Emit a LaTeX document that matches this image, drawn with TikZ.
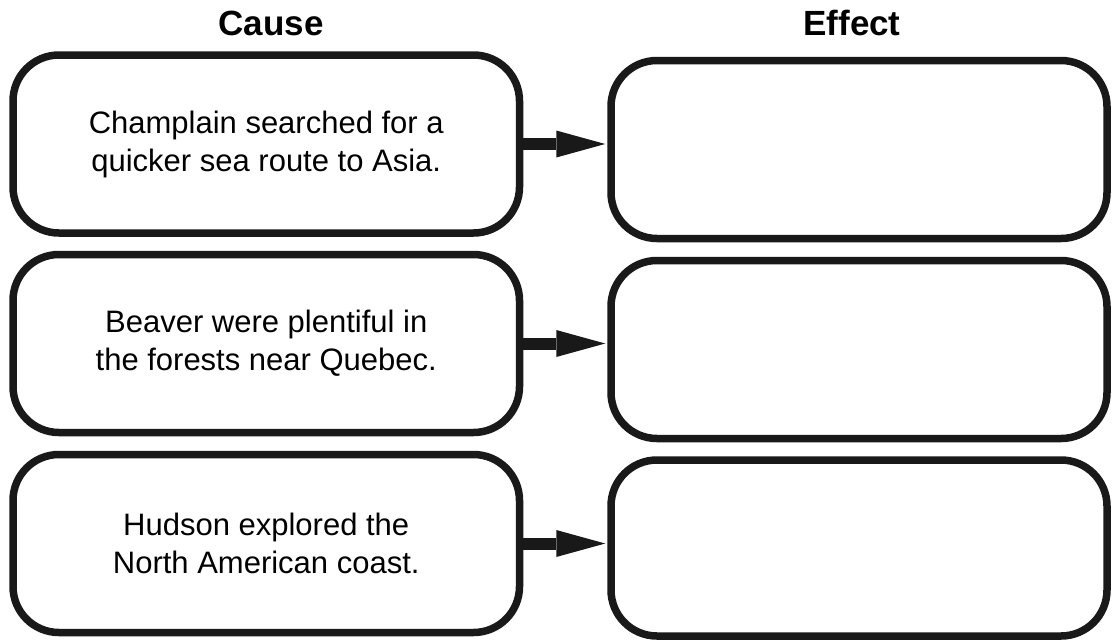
\documentclass[tikz,border=0pt]{standalone}
\usepackage{fontspec}
\setmainfont{Liberation Sans}
\usetikzlibrary{arrows.meta}
\tikzset{
  box/.style={draw=black!90, line width=7.5pt, rounded corners=46pt, inner sep=0pt,
    align=center, font=\fontsize{31}{38}\selectfont},
  causebox/.style={box, minimum width=506.5pt, minimum height=178pt},
  effectbox/.style={box, minimum width=496pt, minimum height=178pt},
  title/.style={font=\fontsize{35}{40}\selectfont\bfseries},
  link/.style={black!90, line width=12pt, -{Triangle[length=49pt,width=27pt,line width=0pt]}, shorten >=2pt},
}
\begin{document}
\begin{tikzpicture}[x=1pt,y=-1pt]
\useasboundingbox (0,0) rectangle (1112,641);
\node[title] (tc) at (271,23) {Cause};
\node[title] (te) at (852,23) {Effect};
\node[causebox] (L1) at (266.25,144) {Champlain searched for a\\quicker sea route to Asia.};
\node[causebox] (L2) at (266.25,343.5) {Beaver were plentiful in\\the forests near Quebec.};
\node[causebox] (L3) at (266.25,543.5) {Hudson explored the\\North American coast.};
\node[effectbox] (R1) at (859,149.5) {};
\node[effectbox] (R2) at (859,349.5) {};
\node[effectbox, minimum height=176pt] (R3) at (859,548) {};
\draw[link] (L1.east) -- (L1.east -| R1.west);
\draw[link] (L2.east) -- (L2.east -| R2.west);
\draw[link] (L3.east) -- (L3.east -| R3.west);
\end{tikzpicture}
\end{document}
